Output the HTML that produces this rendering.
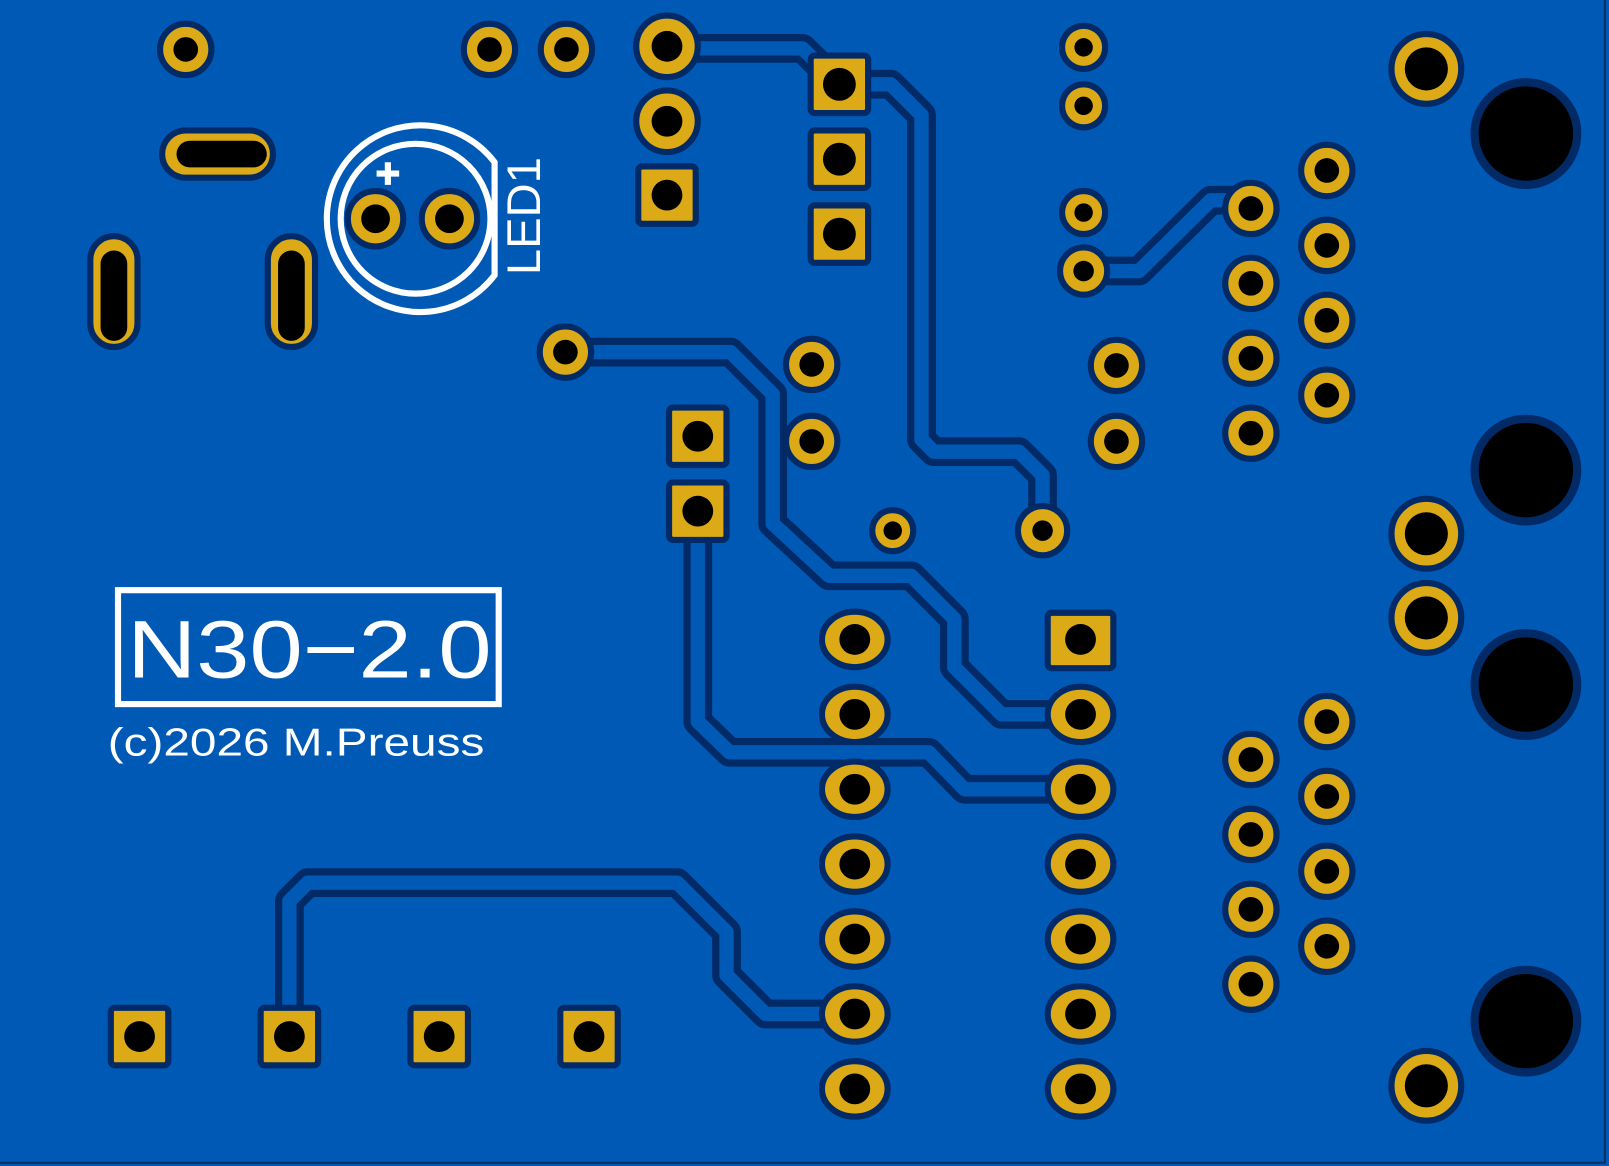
<!DOCTYPE html>
<html><head><meta charset="utf-8"><style>
html,body{margin:0;padding:0;background:#0059b5;}
svg{display:block;}
text{font-family:"Liberation Sans","DejaVu Sans",sans-serif;fill:#fff;}
</style></head><body>
<svg width="1609" height="1166" viewBox="0 0 1568 1136" xmlns="http://www.w3.org/2000/svg">
<rect x="0" y="0" width="1568" height="1136" fill="#0059b5"/>
<rect x="-2" y="-2" width="1566" height="1135" fill="none" stroke="#0a2f62" stroke-width="2"/>
<g fill="none" stroke-linejoin="round" stroke-linecap="round">
<g stroke="#012a66" stroke-width="28">
<polyline points="650,47 782,47 818,82"/>
<polyline points="818,82 868,82 898,112 898,428 910,440 993,440 1016,463 1016,517"/>
<polyline points="1056,264 1110,264 1180,195 1219,195 1219,203"/>
<polyline points="551,343 712,343 753,384 753,510 808,561 888,561 930,603 930,650 976,696 1053,696"/>
<polyline points="680,498 680,703 711,733 905,733 940,769 1053,769"/>
<polyline points="282,1010 282,878 300,860 660,860 708,908 708,950 746,988 833,988"/>
</g>
<g stroke="#0059b5" stroke-width="14">
<polyline points="650,47 782,47 818,82"/>
<polyline points="818,82 868,82 898,112 898,428 910,440 993,440 1016,463 1016,517"/>
<polyline points="1056,264 1110,264 1180,195 1219,195 1219,203"/>
<polyline points="551,343 712,343 753,384 753,510 808,561 888,561 930,603 930,650 976,696 1053,696"/>
<polyline points="680,498 680,703 711,733 905,733 940,769 1053,769"/>
<polyline points="282,1010 282,878 300,860 660,860 708,908 708,950 746,988 833,988"/>
</g>
</g>
<g id="pads">
<g stroke="#012a66" stroke-width="6" fill="#dcaa16">
<circle cx="181" cy="48" r="25"/><circle cx="477" cy="48" r="25"/><circle cx="552" cy="48" r="25"/>
<circle cx="650" cy="45" r="30"/><circle cx="650" cy="118" r="30"/>
<circle cx="551" cy="343" r="25"/><circle cx="791" cy="355" r="25"/><circle cx="791" cy="430" r="25"/>
<circle cx="870" cy="517" r="20"/><circle cx="1016" cy="517" r="24"/>
<circle cx="1056" cy="46" r="21"/><circle cx="1056" cy="103" r="21"/><circle cx="1056" cy="207" r="21"/><circle cx="1056" cy="264" r="23"/>
<circle cx="1088" cy="356" r="25"/><circle cx="1088" cy="430" r="25"/>
<circle cx="1219" cy="203" r="25"/><circle cx="1219" cy="276" r="25"/><circle cx="1219" cy="349" r="25"/><circle cx="1219" cy="422" r="25"/>
<circle cx="1293" cy="166" r="25"/><circle cx="1293" cy="239" r="25"/><circle cx="1293" cy="312" r="25"/><circle cx="1293" cy="385" r="25"/>
<circle cx="1219" cy="740" r="25"/><circle cx="1219" cy="813" r="25"/><circle cx="1219" cy="886" r="25"/><circle cx="1219" cy="959" r="25"/>
<circle cx="1293" cy="703" r="25"/><circle cx="1293" cy="776" r="25"/><circle cx="1293" cy="849" r="25"/><circle cx="1293" cy="922" r="25"/>
<circle cx="1390" cy="67" r="34"/><circle cx="1390" cy="520" r="34"/><circle cx="1390" cy="602" r="34"/><circle cx="1390" cy="1058" r="34"/>
<circle cx="366" cy="213" r="27"/><circle cx="438" cy="213" r="27"/>
<rect x="622" y="162" width="56" height="56" rx="4"/>
<rect x="790" y="54" width="56" height="56" rx="4"/><rect x="790" y="127" width="56" height="56" rx="4"/><rect x="790" y="200" width="56" height="56" rx="4"/>
<rect x="652" y="397" width="56" height="56" rx="4"/><rect x="652" y="470" width="56" height="56" rx="4"/>
<rect x="108" y="982" width="56" height="56" rx="4"/><rect x="254" y="982" width="56" height="56" rx="4"/><rect x="400" y="982" width="56" height="56" rx="4"/><rect x="546" y="982" width="56" height="56" rx="4"/>
<rect x="1021" y="597" width="64" height="54" rx="4"/>
<rect x="158" y="127" width="108" height="46" rx="23"/>
<rect x="88" y="230" width="46" height="108" rx="23"/>
<rect x="261" y="230" width="46" height="108" rx="23"/>
<ellipse cx="833" cy="623" rx="32" ry="27"/><ellipse cx="833" cy="696" rx="32" ry="27"/><ellipse cx="833" cy="769" rx="32" ry="27"/><ellipse cx="833" cy="842" rx="32" ry="27"/><ellipse cx="833" cy="915" rx="32" ry="27"/><ellipse cx="833" cy="988" rx="32" ry="27"/><ellipse cx="833" cy="1061" rx="32" ry="27"/>
<ellipse cx="1053" cy="696" rx="32" ry="27"/><ellipse cx="1053" cy="769" rx="32" ry="27"/><ellipse cx="1053" cy="842" rx="32" ry="27"/><ellipse cx="1053" cy="915" rx="32" ry="27"/><ellipse cx="1053" cy="988" rx="32" ry="27"/><ellipse cx="1053" cy="1061" rx="32" ry="27"/>
</g>
<g fill="#000">
<circle cx="181" cy="48" r="12"/><circle cx="477" cy="48" r="12"/><circle cx="552" cy="48" r="12"/>
<circle cx="650" cy="45" r="15"/><circle cx="650" cy="118" r="15"/><circle cx="650" cy="190" r="15"/>
<circle cx="818" cy="82" r="16"/><circle cx="818" cy="155" r="16"/><circle cx="818" cy="228" r="16"/>
<circle cx="680" cy="425" r="15"/><circle cx="680" cy="498" r="15"/>
<circle cx="551" cy="343" r="12"/><circle cx="791" cy="355" r="12"/><circle cx="791" cy="430" r="12"/>
<circle cx="870" cy="517" r="9"/><circle cx="1016" cy="517" r="10"/>
<circle cx="1056" cy="46" r="9"/><circle cx="1056" cy="103" r="9"/><circle cx="1056" cy="207" r="9"/><circle cx="1056" cy="264" r="10"/>
<circle cx="1088" cy="356" r="12"/><circle cx="1088" cy="430" r="12"/>
<circle cx="1219" cy="203" r="12"/><circle cx="1219" cy="276" r="12"/><circle cx="1219" cy="349" r="12"/><circle cx="1219" cy="422" r="12"/>
<circle cx="1293" cy="166" r="12"/><circle cx="1293" cy="239" r="12"/><circle cx="1293" cy="312" r="12"/><circle cx="1293" cy="385" r="12"/>
<circle cx="1219" cy="740" r="12"/><circle cx="1219" cy="813" r="12"/><circle cx="1219" cy="886" r="12"/><circle cx="1219" cy="959" r="12"/>
<circle cx="1293" cy="703" r="12"/><circle cx="1293" cy="776" r="12"/><circle cx="1293" cy="849" r="12"/><circle cx="1293" cy="922" r="12"/>
<circle cx="1390" cy="67" r="21"/><circle cx="1390" cy="520" r="21"/><circle cx="1390" cy="602" r="21"/><circle cx="1390" cy="1058" r="21"/>
<circle cx="366" cy="213" r="14"/><circle cx="438" cy="213" r="14"/>
<circle cx="136" cy="1010" r="15"/><circle cx="282" cy="1010" r="15"/><circle cx="428" cy="1010" r="15"/><circle cx="574" cy="1010" r="15"/>
<rect x="172" y="137" width="88" height="26" rx="13"/>
<rect x="98" y="244" width="26" height="88" rx="13"/>
<rect x="271" y="244" width="26" height="88" rx="13"/>
<circle cx="833" cy="623" r="15"/><circle cx="833" cy="696" r="15"/><circle cx="833" cy="769" r="15"/><circle cx="833" cy="842" r="15"/><circle cx="833" cy="915" r="15"/><circle cx="833" cy="988" r="15"/><circle cx="833" cy="1061" r="15"/>
<circle cx="1053" cy="623" r="15"/><circle cx="1053" cy="696" r="15"/><circle cx="1053" cy="769" r="15"/><circle cx="1053" cy="842" r="15"/><circle cx="1053" cy="915" r="15"/><circle cx="1053" cy="988" r="15"/><circle cx="1053" cy="1061" r="15"/>
</g>
<g fill="#000" stroke="#012a66" stroke-width="8">
<circle cx="1487" cy="130" r="50"/><circle cx="1487" cy="458" r="50"/><circle cx="1487" cy="667" r="50"/><circle cx="1487" cy="995" r="50"/>
</g>
</g>
<g fill="none" stroke="#fff" stroke-width="6">
<circle cx="405" cy="213" r="73"/>
<path d="M482,158 A91,91 0 1 0 482,268 Z"/>
<path d="M378,158 v22 M367,169 h22"/>
</g>
<text transform="translate(526,268) rotate(-90)" font-size="46">LED1</text>
<rect x="115" y="575" width="371" height="111" fill="none" stroke="#fff" stroke-width="6"/>
<text x="124" y="660" font-size="80" textLength="355" lengthAdjust="spacingAndGlyphs">N30−2.0</text>
<text x="105" y="736" font-size="38" textLength="367" lengthAdjust="spacingAndGlyphs">(c)2026 M.Preuss</text>
</svg>
</body></html>
